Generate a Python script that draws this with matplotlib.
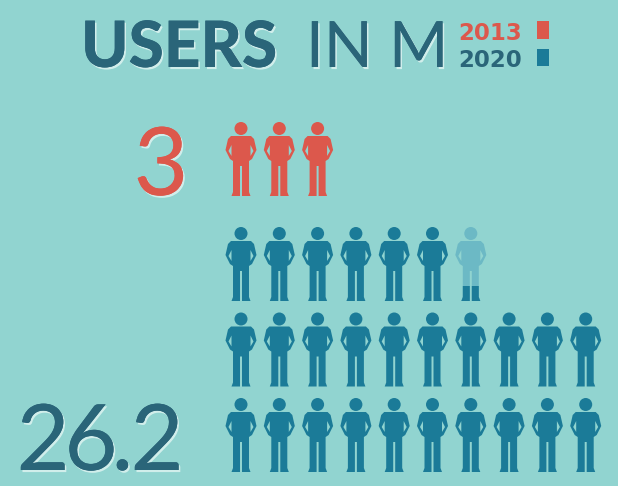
import numpy as np
import matplotlib.pyplot as plt
from matplotlib.patches import Polygon, Circle, Rectangle
import matplotlib.patheffects as pe

# data
years = ["2013", "2020"]
users = [3, 26.2]
labels = ["3", "26.2"]
colors = ["#dc584c", "#1b7b98"]
faded = "#6cb9c5"
bg = "#91d4d0"
dark = "#2a6579"

per_row = [3, 10]

fig = plt.figure(figsize=(6.18, 4.86), dpi=100)
fig.patch.set_facecolor(bg)
ax = fig.add_axes([0, 0, 1, 1])
ax.set_xlim(0, 618)
ax.set_ylim(486, 0)
ax.axis("off")
ax.set_facecolor(bg)

body = np.array([(-10, 14), (10, 14), (13, 17), (15.5, 28), (11, 37), (8, 39),
                 (8, 70), (9.5, 74), (1, 74), (1, 44), (-1, 44), (-1, 74),
                 (-9.5, 74), (-8, 70), (-8, 39), (-11, 37), (-15.5, 28), (-13, 17)])
hole = np.array([(9.5, 23), (12.5, 29), (9.5, 34)])


def person(cx, top, color, frac=1.0):
    if frac < 1:
        col = faded
    else:
        col = color
    ax.add_patch(Polygon(body + [cx, top], closed=True, fc=col, ec="none"))
    ax.add_patch(Circle((cx, top + 6.5), 6.5, fc=col, ec="none"))
    if frac < 1:
        h = 74 * frac
        clip = Rectangle((cx - 20, top + 74 - h), 40, h, transform=ax.transData)
        p3 = Polygon(body + [cx, top], closed=True, fc=color, ec="none")
        ax.add_patch(p3)
        p3.set_clip_path(clip)
    for s in (1, -1):
        ax.add_patch(Polygon(hole * [s, 1] + [cx, top], closed=True, fc=bg, ec="none"))


def draw_group(value, color, tops, ncol):
    n_full = int(np.floor(value))
    part = round(value - n_full, 3)
    total = n_full + (1 if part > 0 else 0)
    nrows = len(tops)
    first = total - ncol * (nrows - 1)
    for r, top in enumerate(tops):
        cnt = first if r == 0 else ncol
        for c in range(cnt):
            cx = 241 + 38.3 * c
            # the partial icon is the last one of the top row
            if r == 0 and c == cnt - 1 and part > 0:
                person(cx, top, color, part)
            else:
                person(cx, top, color)


draw_group(users[0], colors[0], [122], per_row[0])
draw_group(users[1], colors[1], [227, 312.5, 398], per_row[1])

shadow = [pe.withSimplePatchShadow(offset=(1.2, -1.5), shadow_rgbFace="#d9f1ef", alpha=0.9), pe.Normal()]

ax.text(161, 195, labels[0], color=colors[0], fontsize=68, family="Lato",
        ha="center", va="baseline", path_effects=shadow)
# tight spacing of the big number
xs = [43, 91, 122.5, 157]
for ch, x in zip(labels[1], xs):
    ax.text(x, 470, ch, color=dark, fontsize=66, family="Lato",
            ha="center", va="baseline", path_effects=shadow)

ax.text(81, 67, "USERS", color=dark, fontsize=46, family="Lato", weight="black",
        ha="left", va="baseline", path_effects=shadow)
ax.text(306, 67, "IN M", color=dark, fontsize=46, family="Lato", weight="normal",
        ha="left", va="baseline", path_effects=shadow)

ax.text(490, 40, years[0], color=colors[0], fontsize=16.5, family="DejaVu Sans", weight="bold",
        ha="center", va="baseline")
ax.text(490, 67, years[1], color=dark, fontsize=16.5, family="DejaVu Sans", weight="bold",
        ha="center", va="baseline")
ax.add_patch(Rectangle((537, 21), 12, 18, fc=colors[0], ec="none"))
ax.add_patch(Rectangle((537, 49), 12, 17, fc=colors[1], ec="none"))

fig.savefig("out.png", dpi=100, facecolor=bg)
